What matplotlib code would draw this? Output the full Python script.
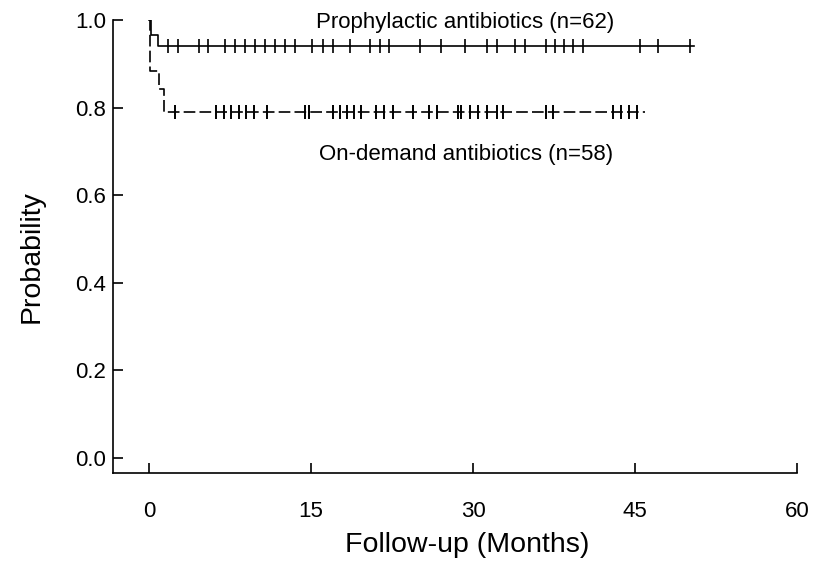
import numpy as np
import matplotlib
matplotlib.use('Agg')
import matplotlib.pyplot as plt

plt.rcParams['font.family'] = ['Liberation Sans Narrow', 'Liberation Sans', 'DejaVu Sans']

# step curves (time in months, survival probability)
proph_times = [0, 0.2, 0.8]
proph_surv = [1.0, 0.966, 0.94]
proph_end = 50.5
proph_censor = [1.8, 2.7, 4.6, 5.5, 7.0, 8.0, 8.9, 9.8, 10.7, 11.7, 12.6, 13.5,
                15.1, 16.1, 17.0, 18.6, 20.5, 21.4, 22.2, 25.1, 27.0, 29.3, 31.3,
                32.2, 33.9, 34.8, 36.8, 37.6, 38.4, 39.3, 40.2, 45.5, 47.1, 50.1]

demand_times = [0, 0.1, 0.95, 1.35]
demand_surv = [1.0, 0.884, 0.842, 0.79]
demand_end = 45.9
demand_censor = [2.4, 6.2, 6.9, 7.6, 8.3, 9.0, 9.7, 10.9, 14.4, 14.8, 17.0, 17.7,
                 18.3, 19.0, 19.6, 21.0, 21.8, 22.6, 24.4, 25.9, 26.7, 28.6, 28.9,
                 29.7, 30.5, 31.3, 32.2, 32.8, 36.8, 37.4, 43.0, 43.7, 44.4, 45.2]


def step_at(times, surv, t):
    idx = np.searchsorted(times, t, side='right') - 1
    return np.array(surv)[idx]


fig = plt.figure(figsize=(8.22, 5.62), dpi=100)
ax = fig.add_axes([0.1375, 0.1584, 0.8321, 0.806])

ax.step(proph_times + [proph_end], proph_surv + [proph_surv[-1]], where='post',
        color='black', lw=1.2)
ax.plot(proph_censor, step_at(proph_times, proph_surv, proph_censor), ls='none',
        marker='|', ms=9.5, mew=1.2, color='black')

ax.step(demand_times + [demand_end], demand_surv + [demand_surv[-1]], where='post',
        color='black', lw=1.2, dashes=(7, 2.5))
ax.plot(demand_censor, step_at(demand_times, demand_surv, demand_censor), ls='none',
        marker='|', ms=9.5, mew=1.4, color='black')

ax.text(29.3, 0.995, 'Prophylactic antibiotics (n=62)', ha='center', va='center', fontsize=16)
ax.text(29.4, 0.692, 'On-demand antibiotics (n=58)', ha='center', va='center', fontsize=16)

ax.set_xlim(-3.33, 60)
ax.set_ylim(-0.034, 1.0)
ax.set_xticks([0, 15, 30, 45, 60])
ax.set_yticks([0.0, 0.2, 0.4, 0.6, 0.8, 1.0])
ax.set_yticklabels(['0.0', '0.2', '0.4', '0.6', '0.8', '1.0'])
ax.spines['top'].set_visible(False)
ax.spines['right'].set_visible(False)
for s in ['left', 'bottom']:
    ax.spines[s].set_linewidth(1.2)
ax.tick_params(axis='x', direction='in', length=7, width=1.2, pad=20, labelsize=16)
ax.tick_params(axis='y', direction='in', length=7, width=1.2, pad=5, labelsize=16)
ax.set_xlabel('Follow-up (Months)', fontsize=20.5)
ax.set_ylabel('Probability', fontsize=20.5)
ax.xaxis.set_label_coords(0.5175, -0.13)
ax.yaxis.set_label_coords(-0.1, 0.478)

fig.savefig('out.png', dpi=100, facecolor='white')
